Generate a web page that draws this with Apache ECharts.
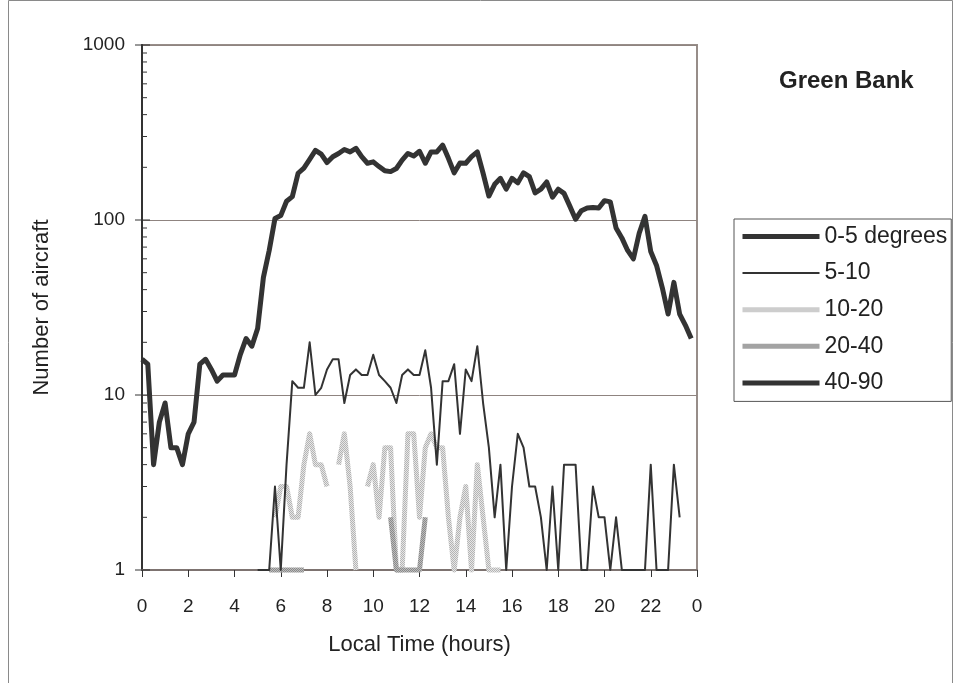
<!DOCTYPE html>
<html>
<head>
<meta charset="utf-8">
<script src="https://cdn.jsdelivr.net/npm/echarts@6/dist/echarts.min.js"></script>
<style>
  html, body { margin: 0; padding: 0; background: #fff; }
  #chart { width: 954px; height: 683px; }
</style>
</head>
<body>
<div id="chart"></div>
<script>
// Aircraft counts per 15-minute slot, split by elevation band.
const slotCount = 96;
const slotHours = Array.from({ length: slotCount }, (_, i) => i / 4);

const deg0to5 = [16,15,4,7,9,5,5,4,6,7,15,16,14,12,13,13,13,17,21,19,
  24,47,67,102,106,128,136,185,198,222,250,238,213,230,240,253,245,257,230,211,
  215,202,191,189,197,220,240,232,247,211,245,245,268,225,186,212,211,230,245,185,
  137,160,173,150,173,163,186,177,143,150,165,135,150,142,120,101,113,117,118,117,
  129,127,90,79,67,60,84,105,66,55,41,29,44,29,25,21];

const deg5to10 = [null,null,null,null,null,null,null,null,null,null,
  null,null,null,null,null,null,null,null,null,null,
  1,1,1,3,1,4,12,11,11,20,10,11,14,16,16,9,13,14,13,13,
  17,13,12,11,9,13,14,13,13,18,11,4,12,12,15,6,14,12,19,9,
  5,2,4,1,3,6,5,3,3,2,1,3,1,4,4,4,1,1,3,2,
  2,1,2,1,1,1,1,1,4,1,1,1,4,2,null,null];

const deg10to20 = [null,null,null,null,null,null,null,null,null,null,
  null,null,null,null,null,null,null,null,null,null,
  null,null,null,2,3,3,2,2,4,6,4,4,3,null,4,6,3,1,null,3,
  4,2,5,5,1,1,6,6,2,5,6,5,5,2,1,2,3,1,4,2,
  1,1,1,null,null,null,null,null,null,null,null,null,null,null,null,null,null,null,null,null,
  null,null,null,null,null,null,null,null,null,null,null,null,null,null,null,null];

const deg20to40 = [null,null,null,null,null,null,null,null,null,null,
  null,null,null,null,null,null,null,null,null,null,
  null,null,1,1,1,1,1,1,1,null,null,null,null,null,null,null,null,null,null,null,
  null,null,null,2,1,1,1,1,1,2,null,null,null,null,null,null,null,null,null,null,
  null,null,null,null,null,null,null,null,null,null,null,null,null,null,null,null,null,null,null,null,
  null,null,null,null,null,null,null,null,null,null,null,null,null,null,null,null];

const deg40to90 = [];

const seriesNames = ['0-5 degrees', '5-10', '10-20', '20-40', '40-90'];
const xTickLabels = ['0','2','4','6','8','10','12','14','16','18','20','22','0'];
const yMajorTicks = [1, 10, 100, 1000];
const yMinorTicks = [2,3,4,5,6,7,8,9,20,30,40,50,60,70,80,90,200,300,400,500,600,700,800,900];

const FONT = '"Liberation Sans", Arial, Helvetica, sans-serif';
const INK = '#333333';

// Fine two-tone stipple used for the light and medium grey bands.
function stipple(a, b) {
  const c = document.createElement('canvas');
  c.width = 2; c.height = 2;
  const g = c.getContext('2d');
  g.fillStyle = b; g.fillRect(0, 0, 2, 2);
  g.fillStyle = a; g.fillRect(0, 0, 1, 1); g.fillRect(1, 1, 1, 1);
  return { image: c, repeat: 'repeat' };
}
const lightStipple = stipple('#b4b4b4', '#e6e6e6');
const midStipple = stipple('#8a8a8a', '#bdbdbd');

function pairs(values) {
  return values.map((v, i) => [slotHours[i], v]);
}

function lineSeries(name, values, color, width, z) {
  return {
    name: name,
    type: 'line',
    data: pairs(values),
    symbol: 'none',
    showSymbol: false,
    clip: false,
    connectNulls: false,
    z: z,
    itemStyle: { color: color },
    lineStyle: { color: color, width: width, join: 'round', cap: 'butt' },
    emphasis: { disabled: true },
    animation: false
  };
}

// Tick marks on the log axis: majors cross the axis, minors sit inside.
const yTickMarks = yMajorTicks.map(v => [0, v, 7, 8]).concat(yMinorTicks.map(v => [0, v, 0, 5]));

const chart = echarts.init(document.getElementById('chart'), null, { renderer: 'canvas' });

chart.setOption({
  animation: false,
  backgroundColor: '#ffffff',
  // Chart-area frame
  graphic: [{
    type: 'rect',
    silent: true,
    shape: { x: 8.5, y: 0.5, width: 944, height: 700 },
    style: { fill: null, stroke: '#8a8a8a', lineWidth: 1 }
  }],
  title: {
    text: 'Green Bank',
    left: 779, top: 69,
    padding: 0,
    textStyle: { fontFamily: FONT, fontSize: 24, fontWeight: 'bold', color: '#222' }
  },
  grid: {
    left: 142, top: 45, right: 257, bottom: 113,
    show: true, borderColor: '#978d89', borderWidth: 2,
    outerBoundsMode: 'none'
  },
  legend: {
    orient: 'vertical',
    left: 734, top: 219,
    padding: [6, 4, 7, 6],
    itemWidth: 77, itemHeight: 14, itemGap: 13.6,
    borderColor: '#555', borderWidth: 1,
    backgroundColor: '#fff',
    selectedMode: false,
    data: seriesNames,
    itemStyle: { opacity: 0 },
    lineStyle: { width: 'inherit' },
    textStyle: { fontFamily: FONT, fontSize: 23, lineHeight: 22, color: '#222' }
  },
  xAxis: {
    type: 'value',
    min: 0, max: 24, interval: 2,
    name: 'Local Time (hours)',
    nameLocation: 'middle',
    nameGap: 64,
    nameTextStyle: { fontFamily: FONT, fontSize: 22, color: '#222' },
    axisLine: { show: true, onZero: false, lineStyle: { color: '#7d7370', width: 2 } },
    axisTick: { show: true, length: 7, lineStyle: { color: INK, width: 1 } },
    axisLabel: {
      margin: 27,
      fontFamily: FONT, fontSize: 19, color: '#222',
      formatter: v => xTickLabels[Math.round(v / 2)]
    },
    splitLine: { show: false }
  },
  yAxis: {
    type: 'log',
    logBase: 10,
    min: 1, max: 1000,
    name: 'Number of aircraft',
    nameLocation: 'middle',
    nameGap: 89,
    nameTextStyle: { fontFamily: FONT, fontSize: 22, color: '#222' },
    axisLine: { show: true, lineStyle: { color: INK, width: 2 } },
    axisTick: { show: false },
    minorTick: { show: false },
    axisLabel: {
      margin: 17,
      fontFamily: FONT, fontSize: 19, color: '#222',
      formatter: v => String(Math.round(v))
    },
    splitLine: { show: true, lineStyle: { color: '#8f8480', width: 1 } }
  },
  series: [
    lineSeries(seriesNames[0], deg0to5, INK, 5, 6),
    lineSeries(seriesNames[1], deg5to10, INK, 2, 5),
    lineSeries(seriesNames[2], deg10to20, lightStipple, 5, 3),
    lineSeries(seriesNames[3], deg20to40, midStipple, 5, 4),
    lineSeries(seriesNames[4], deg40to90, INK, 5, 2),
    {
      type: 'custom',
      coordinateSystem: 'cartesian2d',
      data: yTickMarks,
      clip: false,
      silent: true,
      z: 8,
      animation: false,
      renderItem: function (params, api) {
        const p = api.coord([api.value(0), api.value(1)]);
        return {
          type: 'line',
          shape: { x1: p[0] - api.value(2), y1: p[1], x2: p[0] + api.value(3), y2: p[1] },
          style: { stroke: INK, lineWidth: 1 }
        };
      }
    }
  ]
});
</script>
</body>
</html>
